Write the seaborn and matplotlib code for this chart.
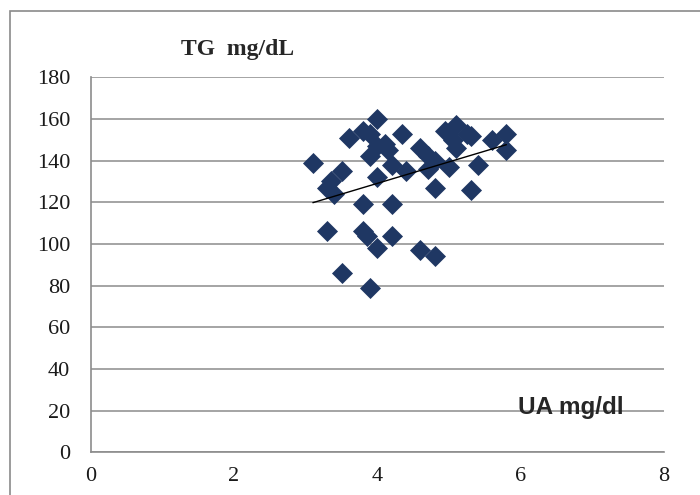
import numpy as np
import pandas as pd
import matplotlib
matplotlib.use("Agg")
import matplotlib.pyplot as plt
import seaborn as sns
from matplotlib.patches import Rectangle

# uric acid (mg/dl) vs triglycerides (mg/dL)
ua = [3.1, 3.3, 3.35, 3.4, 3.5, 3.6, 3.8, 3.9, 4.0, 3.9,
      4.0, 4.1, 4.15, 4.35, 4.0, 4.2, 4.4, 4.6, 4.7, 4.7,
      4.8, 4.8, 5.0, 4.95, 5.1, 5.25, 5.05, 5.1, 5.3, 5.4,
      5.3, 5.6, 5.8, 5.8, 3.8, 4.2, 3.3, 3.8, 3.85, 4.2,
      4.0, 4.6, 4.8, 3.5, 3.9]
tg = [139, 127, 130, 124, 135, 151, 154, 153, 160, 142,
      147, 148, 145, 153, 132, 138, 135, 146, 142, 136,
      140, 127, 137, 154, 157, 153, 150, 146, 152, 138,
      126, 150, 153, 145, 119, 119, 106, 106, 104, 104,
      98, 97, 94, 86, 79]

x_ticks = [0, 2, 4, 6, 8]
y_ticks = list(range(0, 181, 20))

df = pd.DataFrame({"UA": ua, "TG": tg})

sns.set_style("white")
plt.rcParams["font.family"] = ["Liberation Serif", "DejaVu Serif"]

fig = plt.figure(figsize=(7, 4.95), dpi=100)
ax = fig.add_axes([0.1296, 0.0863, 0.819, 0.7575])

# outer chart frame (cut off on right and bottom like the original)
fig.patches.append(Rectangle((10 / 700, -0.1), 1.2, 1 - 11 / 495 + 0.1,
                             transform=fig.transFigure, fill=False,
                             edgecolor="#8a8a8a", lw=1.2))

ax.yaxis.grid(True, color="#8c8c8c", lw=1.1)
ax.set_axisbelow(True)

sns.scatterplot(data=df, x="UA", y="TG", marker="D", s=115,
                color="#1f3763", linewidth=0, ax=ax, zorder=3)
sns.regplot(data=df, x="UA", y="TG", scatter=False, ci=None, truncate=True,
            color="black", line_kws={"lw": 1.0, "zorder": 4}, ax=ax)

ax.set_xlim(0, 8)
ax.set_ylim(0, 180)
ax.set_xticks(x_ticks)
ax.set_yticks(y_ticks)
ax.set_xlabel("")
ax.set_ylabel("")

for side in ["top", "right"]:
    ax.spines[side].set_visible(False)
for side in ["left", "bottom"]:
    ax.spines[side].set_color("#8c8c8c")
    ax.spines[side].set_linewidth(1.2)

ax.tick_params(axis="both", direction="out", width=1.1, color="#8c8c8c",
               labelsize=16, labelcolor="#1a1a1a")
ax.tick_params(axis="x", length=4.5, pad=6)
ax.tick_params(axis="y", length=6.3, pad=8.5)

fig.text(0.34, 0.889, "TG  mg/dL", ha="center", va="baseline",
         fontsize=17, fontweight="bold", family="Liberation Serif")
fig.text(0.816, 0.1636, "UA mg/dl", ha="center", va="baseline",
         fontsize=17.5, fontweight="bold", family="Liberation Sans")

fig.savefig("out.png", dpi=100)
